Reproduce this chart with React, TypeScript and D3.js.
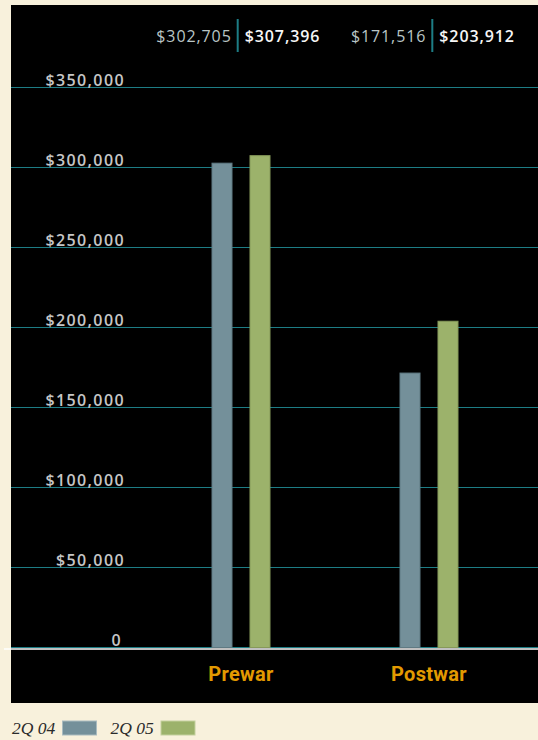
import React from "react";
import * as d3 from "d3";

const categories = ["Prewar", "Postwar"];
const seriesNames = ["2Q 04", "2Q 05"];
const values2Q04 = [302705, 171516];
const values2Q05 = [307396, 203912];
const yTicks = [0, 50000, 100000, 150000, 200000, 250000, 300000, 350000];

const W = 538;
const H = 740;
const BG = "#f8f1dc";
const PANEL = "#000000";
const GRID = "#1d7d85";
const COLORS = ["#74909a", "#9cb26b"];
const STROKES = ["#5f7a83", "#86995a"];
const LEG_STROKES = ["#a9bbbf", "#c3d09e"];
const ORANGE = "#e39a00";

export default function App() {
  const panel = { x: 11, y: 5, w: 527, h: 698 };
  const y = d3.scaleLinear().domain([0, 350000]).range([647.5, 87.5]);
  const x = d3.scaleBand<string>().domain(categories).range([147, 523]).paddingInner(0).paddingOuter(0);
  const xs = d3.scaleBand<string>().domain(seriesNames).range([-29.5, 29.5]).paddingInner(0.447);
  const head = d3.scalePoint<string>().domain(categories).range([237.7, 432.3]);
  const fmtTick = (v: number) => (v === 0 ? "0" : "$" + d3.format(",")(v));
  const fmtVal = (v: number) => "$" + d3.format(",")(v);
  const series = [values2Q04, values2Q05];

  return (
    <svg width={W} height={H} style={{ position: "absolute", left: 0, top: 0 }}>
      <rect x={0} y={0} width={W} height={H} fill={BG} />
      <rect x={panel.x} y={panel.y} width={panel.w} height={panel.h} fill={PANEL} />
      {/* gridlines */}
      {yTicks.map((t) => (
        <line key={"g" + t} x1={panel.x} x2={W} y1={y(t)} y2={y(t)} stroke={GRID} strokeWidth={1} />
      ))}
      {/* tick labels */}
      {yTicks.map((t) => (
        <text
          key={"t" + t}
          x={t === 0 ? 122 : 125}
          y={y(t) - 2}
          textAnchor="end"
          fill="#c6c6c6"
          fontFamily="'Open Sans', sans-serif"
          fontWeight={600}
          fontSize={16}
          letterSpacing={1.4}
        >
          {fmtTick(t)}
        </text>
      ))}
      {/* bars */}
      {categories.map((c, i) =>
        seriesNames.map((s, j) => {
          const v = series[j][i];
          const cx = (x(c) as number) + x.bandwidth() / 2;
          return (
            <rect
              key={c + s}
              x={cx + (xs(s) as number) + 0.5}
              y={y(v)}
              width={xs.bandwidth() - 1}
              height={y(0) - y(v)}
              fill={COLORS[j]}
              stroke={STROKES[j]}
              strokeWidth={1}
            />
          );
        })
      )}
      {/* zero line */}
      <line x1={4} x2={W} y1={y(0) + 1.5} y2={y(0) + 1.5} stroke="#ffffff" strokeWidth={1.5} />
      {/* category labels */}
      {categories.map((c) => (
        <text
          key={"c" + c}
          x={(x(c) as number) + x.bandwidth() / 2}
          y={681}
          textAnchor="middle"
          fill={ORANGE}
          fontFamily="Roboto, sans-serif"
          fontWeight={700}
          fontSize={20}
          letterSpacing={0.3}
        >
          {c}
        </text>
      ))}
      {/* header value labels */}
      {categories.map((c, i) => {
        const sx = head(c) as number;
        return (
          <g key={"h" + c}>
            <line x1={sx} x2={sx} y1={19} y2={52} stroke={GRID} strokeWidth={2} />
            <text
              x={sx - 6}
              y={41.7}
              textAnchor="end"
              fill="#b9c5c5"
              fontFamily="'Open Sans', sans-serif"
              fontWeight={500}
              fontSize={16}
              letterSpacing={0.9}
            >
              {fmtVal(values2Q04[i])}
            </text>
            <text
              x={sx + 7}
              y={41.7}
              textAnchor="start"
              fill="#f6f6f6"
              fontFamily="'Open Sans', sans-serif"
              fontWeight={600}
              fontSize={16}
              letterSpacing={0.9}
            >
              {fmtVal(values2Q05[i])}
            </text>
          </g>
        );
      })}
      {/* legend */}
      {seriesNames.map((s, j) => {
        const lx = j === 0 ? 12 : 110.5;
        return (
          <g key={"l" + s}>
            <text
              x={lx}
              y={734}
              fill="#2a2a2a"
              fontFamily="'Liberation Serif', 'DejaVu Serif', serif"
              fontStyle="italic"
              fontSize={17.5}
            >
              {s}
            </text>
            <rect
              x={lx + 50.5}
              y={721}
              width={34}
              height={14}
              fill={COLORS[j]}
              stroke={LEG_STROKES[j]}
              strokeWidth={1}
            />
          </g>
        );
      })}
    </svg>
  );
}
